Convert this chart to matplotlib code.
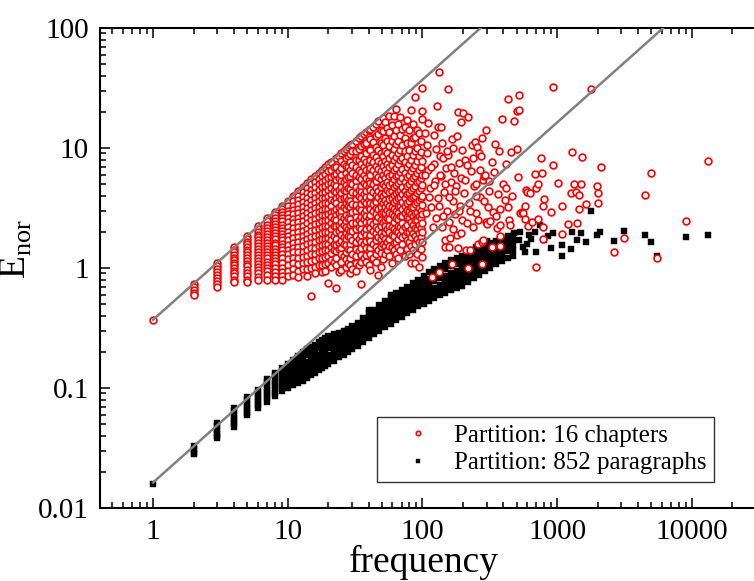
import matplotlib
matplotlib.use("Agg")
import matplotlib.pyplot as plt

# red: partition into 16 chapters; columns (frequency, list of E_nor)
red_cols = [
    (1, [0.37]),
    (2, [0.74, 0.7, 0.66, 0.62, 0.6]),
    (3, [1.1, 1.04, 0.98, 0.93, 0.88, 0.82, 0.78, 0.74, 0.7]),
    (4, [1.5, 1.42, 1.35, 1.28, 1.22, 1.16, 1.1, 1.05, 1.0, 0.95, 0.9, 0.85, 0.8, 0.76]),
    (5, [1.85, 1.75, 1.66, 1.57, 1.49, 1.42, 1.35, 1.28, 1.21, 1.15, 1.09, 1.03, 0.97, 0.91, 0.86, 0.8, 0.77]),
    (6, [2.25, 2.12, 2.0, 1.9, 1.8, 1.7, 1.61, 1.52, 1.44, 1.36, 1.29, 1.22, 1.15, 1.08, 1.02, 0.96, 0.9, 0.84, 0.79]),
    (7, [2.6, 2.45, 2.3, 2.17, 2.05, 1.93, 1.82, 1.72, 1.62, 1.53, 1.44, 1.36, 1.28, 1.2, 1.13, 1.06, 1.0, 0.94, 0.88, 0.8]),
    (8, [2.95, 2.78, 2.62, 2.47, 2.33, 2.2, 2.07, 1.95, 1.84, 1.73, 1.63, 1.54, 1.45, 1.37, 1.29, 1.21, 1.14, 1.07, 1.0, 0.93, 0.86, 0.8]),
    (9, [3.3, 3.1, 2.92, 2.75, 2.6, 2.45, 2.3, 2.17, 2.04, 1.92, 1.8, 1.7, 1.6, 1.5, 1.4, 1.3, 1.2, 1.1, 1.0, 0.92, 0.85, 0.8]),
    (10, [3.6, 3.3, 3.0, 2.8, 2.6, 2.4, 2.2, 2.0, 1.85, 1.7, 1.55, 1.42, 1.3, 1.18, 1.06, 0.95, 0.85]),
    (11, [4.0, 3.6, 3.3, 3.05, 2.8, 2.55, 2.35, 2.15, 1.95, 1.78, 1.62, 1.48, 1.35, 1.22, 1.1, 0.98, 0.88]),
    (12, [4.4, 4.0, 3.7, 3.4, 3.1, 2.85, 2.6, 2.4, 2.2, 2.0, 1.8, 1.65, 1.5, 1.36, 1.22, 1.08, 0.95, 0.84]),
    (13, [4.7, 4.3, 3.9, 3.55, 3.25, 2.95, 2.7, 2.45, 2.25, 2.05, 1.85, 1.68, 1.52, 1.37, 1.23, 1.1, 0.98]),
    (14, [5.1, 4.6, 4.2, 3.8, 3.45, 3.15, 2.85, 2.6, 2.35, 2.12, 1.92, 1.74, 1.57, 1.42, 1.27, 1.12, 0.98, 0.85]),
    (15, [5.5, 5.0, 4.5, 4.1, 3.7, 3.35, 3.05, 2.75, 2.5, 2.25, 2.02, 1.82, 1.63, 1.46, 1.3, 1.15, 1.0, 0.58]),
    (16, [5.8, 5.2, 4.7, 4.25, 3.85, 3.5, 3.15, 2.85, 2.58, 2.32, 2.08, 1.86, 1.66, 1.48, 1.31, 1.16, 1.02, 0.9]),
    (17, [6.2, 5.5, 5.0, 4.5, 4.0, 3.6, 3.25, 2.95, 2.65, 2.38, 2.13, 1.9, 1.7, 1.52, 1.35, 1.2, 1.05]),
    (18, [6.5, 5.8, 5.2, 4.7, 4.2, 3.8, 3.4, 3.05, 2.75, 2.45, 2.2, 1.97, 1.75, 1.55, 1.38, 1.22, 1.06, 0.92]),
    (19, [6.9, 6.1, 5.4, 4.8, 4.3, 3.85, 3.45, 3.1, 2.78, 2.48, 2.22, 1.98, 1.76, 1.57, 1.4, 1.24, 1.08, 0.95]),
    (20, [7.3, 6.4, 5.6, 5.0, 4.45, 3.95, 3.5, 3.12, 2.8, 2.5, 2.24, 2.0, 1.78, 1.6, 1.42, 1.25, 1.1, 0.75]),
    (21, [7.6, 6.5, 5.7, 5.1, 4.6, 4.1, 3.7, 3.3, 2.95, 2.65, 2.38, 2.12, 1.9, 1.7, 1.5, 1.33, 1.17, 1.02]),
    (22, [6.9, 5.9, 5.0, 4.35, 3.6, 3.0, 2.55, 2.25, 1.85, 1.6, 1.4, 1.12]),
    (23, [8.3, 7.0, 6.1, 5.4, 4.8, 4.3, 3.85, 3.45, 3.1, 2.78, 2.5, 2.22, 1.98, 1.76, 1.56, 1.38, 1.2, 1.05, 0.68]),
    (24, [8.6, 6.4, 5.6, 4.5, 3.95, 3.2, 2.9, 2.3, 2.05, 1.62, 1.45, 0.92]),
    (25, [9.0, 7.8, 6.8, 6.0, 5.3, 4.7, 4.2, 3.75, 3.35, 3.0, 2.68, 2.4, 2.14, 1.9, 1.68, 1.48, 1.3, 1.13, 0.97]),
    (26, [9.4, 7.3, 5.2, 4.45, 3.8, 3.2, 2.6, 2.3, 1.8, 1.58, 1.25]),
    (27, [9.8, 8.2, 7.1, 6.2, 5.5, 4.9, 4.35, 3.9, 3.48, 3.1, 2.77, 2.47, 2.2, 1.96, 1.74, 1.54, 1.35, 1.18, 1.02]),
    (28, [10.2, 8.5, 6.9, 5.7, 4.6, 3.7, 3.3, 2.6, 2.1, 1.85, 1.45, 1.1]),
    (29, [10.5, 8.9, 7.6, 6.6, 5.8, 5.1, 4.55, 4.05, 3.6, 3.2, 2.85, 2.55, 2.27, 2.02, 1.8, 1.6, 1.4, 1.22, 1.05, 0.9]),
    (30, [10.9, 9.4, 7.2, 6.2, 5.0, 4.3, 3.4, 2.95, 2.35, 2.05, 1.7, 1.3, 0.98]),
    (32, [11.5, 9.4, 8.0, 6.9, 6.0, 5.3, 4.7, 4.2, 3.75, 3.35, 2.98, 2.65, 2.36, 2.1, 1.86, 1.64, 1.44, 1.26, 1.1, 0.95]),
    (34, [12.2, 9.8, 7.9, 6.6, 5.7, 4.5, 3.95, 3.15, 2.5, 2.2, 1.75, 1.38, 1.05]),
    (35, [12.6, 10.3, 8.6, 7.3, 6.3, 5.5, 4.85, 4.3, 3.82, 3.4, 3.02, 2.68, 2.38, 2.12, 1.88, 1.66, 1.46, 1.28, 1.12, 0.74]),
    (37, [13.0, 10.8, 8.1, 7.0, 5.9, 5.1, 4.1, 3.6, 2.9, 2.55, 2.0, 1.58, 1.2]),
    (38, [13.5, 11.0, 9.0, 7.6, 6.5, 5.65, 4.95, 4.4, 3.9, 3.45, 3.05, 2.7, 2.4, 2.13, 1.89, 1.67, 1.47, 1.29, 1.12]),
    (40, [14.2, 12.3, 9.8, 7.4, 6.3, 5.4, 4.7, 3.7, 3.25, 2.6, 2.28, 1.78, 1.38, 1.05]),
    (41, [14.5, 11.8, 9.6, 8.0, 6.8, 5.9, 5.15, 4.5, 3.95, 3.5, 3.1, 2.74, 2.43, 2.15, 1.9, 1.68, 1.48, 1.3, 0.96]),
    (43, [15.1, 11.2, 8.8, 7.6, 6.5, 5.0, 4.3, 3.4, 3.0, 2.33, 2.05, 1.6, 1.22]),
    (45, [15.8, 12.5, 10.2, 8.4, 7.1, 6.1, 5.3, 4.6, 4.05, 3.58, 3.16, 2.8, 2.48, 2.2, 1.94, 1.71, 1.5, 1.3, 1.12]),
    (47, [16.8, 13.0, 9.6, 7.8, 6.7, 5.7, 4.4, 3.9, 3.1, 2.65, 2.1, 1.82, 1.4, 0.88]),
    (49, [14.0, 11.0, 9.0, 7.5, 6.4, 5.5, 4.75, 4.15, 3.65, 3.22, 2.85, 2.52, 2.23, 1.97, 1.73, 1.52, 1.33, 1.02]),
    (51, [17.8, 13.8, 10.5, 8.6, 7.1, 6.0, 5.0, 4.0, 3.45, 2.95, 2.4, 1.85, 1.6, 1.18]),
    (53, [16.5, 12.0, 9.5, 7.8, 6.6, 5.6, 4.85, 4.22, 3.7, 3.25, 2.87, 2.53, 2.24, 1.98, 1.74, 1.53, 1.3]),
    (55, [14.8, 11.4, 9.0, 7.3, 6.2, 5.2, 4.5, 3.5, 3.05, 2.6, 2.1, 1.65, 1.42]),
    (57, [18.5, 13.5, 10.4, 8.3, 6.9, 5.8, 4.95, 4.3, 3.75, 3.3, 2.9, 2.55, 2.25, 1.98, 1.74, 1.52, 1.25]),
    (60, [15.5, 11.5, 8.8, 7.2, 6.0, 5.1, 4.4, 3.8, 3.2, 2.8, 2.2, 1.9, 1.5, 1.1]),
    (62, [18.5, 12.6, 9.8, 7.9, 6.5, 5.5, 4.7, 4.05, 3.55, 3.1, 2.72, 2.4, 2.12, 1.86, 1.62, 1.4]),
    (64, [21.0, 14.2, 10.8, 8.4, 6.8, 5.8, 4.9, 4.2, 3.7, 3.0, 2.6, 2.05, 1.65, 1.32]),
    (66, [16.0, 11.5, 9.0, 7.3, 6.0, 5.1, 4.4, 3.8, 3.3, 2.9, 2.55, 2.25, 1.98, 1.74, 1.5, 1.2]),
    (68, [18.0, 12.8, 9.6, 7.9, 6.3, 5.3, 4.5, 3.9, 3.3, 2.7, 2.2, 1.9, 1.4]),
    (71, [14.4, 10.5, 8.2, 6.7, 5.6, 4.75, 4.1, 3.55, 3.1, 2.72, 2.38, 2.08, 1.82, 1.58]),
    (74, [15.0, 12.0, 9.4, 7.6, 6.2, 5.2, 4.4, 3.8, 3.3, 2.85, 2.2, 1.9, 1.25]),
    (77, [17.1, 11.0, 8.6, 6.9, 5.7, 4.8, 4.1, 3.5, 3.05, 2.65, 2.3, 2.0, 1.72, 1.45]),
    (80, [14.0, 9.6, 7.4, 6.0, 5.0, 4.2, 3.6, 3.0, 2.6, 2.0, 1.65, 1.3]),
    (82, [20.7, 11.0, 8.0, 6.4, 5.3, 4.45, 3.8, 3.25, 2.8, 2.42, 2.1, 1.8, 1.52, 1.1]),
    (85, [16.0, 12.0, 8.8, 6.8, 5.6, 4.6, 3.9, 3.2, 2.7, 2.3, 1.95, 1.4]),
    (88, [26.6, 12.3, 9.4, 7.2, 5.8, 4.8, 4.0, 3.4, 2.9, 2.5, 2.15, 1.85, 1.58, 1.1]),
    (91, [14.0, 10.0, 7.8, 6.2, 5.2, 4.2, 3.55, 2.95, 2.5, 2.1, 1.75, 1.3]),
    (95, [13.3, 8.5, 6.6, 5.3, 4.4, 3.7, 3.15, 2.7, 2.3, 1.95, 1.65, 1.02]),
    (97, [11.5, 9.2, 7.0, 5.6, 4.6, 3.8, 3.0, 2.6, 2.15, 1.8, 1.45]),
    (100, [31.6, 20.3, 17.4, 7.8, 6.0, 4.9, 4.0, 3.35, 2.8, 2.35, 1.98, 1.65, 1.23]),
]

# red: sparse points above frequency 100
red_tail_f = [104, 108, 110, 111, 113, 115, 118, 121, 122, 124, 126, 128, 130, 131, 133, 133,
              135, 137, 138, 140, 142, 145, 147, 147, 150, 153, 155, 155, 158, 158, 160, 162,
              165, 166, 168, 170, 172, 175, 178, 180, 183, 184, 186, 190, 193, 193, 195, 198,
              200, 204, 208, 212, 215, 218, 218, 222, 225, 228, 233, 236, 240, 245, 248, 250,
              254, 258, 258, 262, 266, 272, 275, 276, 277, 280, 282, 287, 290, 296, 300, 305,
              312, 320, 330, 330, 334, 340, 350, 360, 365, 370, 376, 380, 380, 390, 400, 410,
              420, 430, 435, 440, 445, 455, 480, 500, 500, 510, 520, 520, 530, 550, 555, 580,
              580, 590, 600, 610, 630, 650, 686, 700, 700, 720, 720, 760, 770, 790, 790, 790,
              800, 900, 930, 930, 1010, 1085, 1085, 1200, 1260, 1300, 1340, 1380, 1400, 1450,
              1450, 1500, 1540, 1650, 1780, 1980, 2030, 2030, 2130, 2660, 3130, 4500, 4960,
              5500, 9100, 13100,
              105, 107, 109, 112, 116, 119, 123, 127, 132, 136, 139, 143, 148, 152, 157, 163,
              169, 174, 181, 188, 196, 206, 214, 226, 238, 252, 268, 285, 298, 315, 345, 375,
              415, 460]
red_tail_e = [13.3, 9.0, 6.5, 16.2, 4.6, 3.2, 0.84, 12.8, 7.4, 5.3, 2.6, 22.4, 15.0, 3.8, 43.0, 0.93,
              8.6, 15.0, 5.8, 2.2, 8.25, 4.3, 1.5, 1.71, 6.8, 3.0, 31.0, 8.8, 2.4, 1.5, 1.78, 5.2,
              11.9, 1.08, 3.6, 10.0, 6.2, 2.8, 4.8, 1.9, 1.47, 20.0, 7.5, 3.3, 16.5, 1.96, 5.6, 2.5,
              19.6, 4.2, 8.0, 1.4, 2.37, 18.1, 1.0, 3.5, 1.41, 6.4, 10.6, 2.2, 4.8, 11.2, 2.9, 5.0,
              10.2, 1.6, 2.5, 9.1, 3.9, 8.6, 12.1, 1.08, 1.65, 1.71, 5.4, 5.85, 5.9, 2.4, 2.33, 3.2,
              4.4, 2.46, 7.6, 1.5, 2.93, 6.3, 2.7, 2.15, 4.13, 9.4, 2.28, 1.85, 1.53, 17.4, 5.0, 3.7,
              4.6, 25.6, 3.2, 2.5, 2.28, 9.2, 16.7, 20.3, 9.8, 5.7, 27.6, 20.7, 2.9, 2.93, 2.87, 3.3,
              2.56, 4.46, 4.3, 2.24, 4.2, 2.4, 6.07, 4.6, 1.02, 5.0, 2.56, 8.25, 6.2, 3.3, 2.2, 1.74,
              3.76, 2.93, 32.3, 7.2, 5.1, 3.3, 1.92, 2.33, 4.2, 9.26, 5.0, 4.3, 2.37, 4.06,
              3.1, 5.0, 8.4, 3.4, 31.0, 4.8, 4.2, 3.5, 6.9, 1.36, 1.78, 4.06, 6.2,
              1.21, 2.46, 7.8,
              5.9, 2.9, 10.5, 3.9, 7.0, 2.2, 4.9, 9.8, 3.3, 6.0, 11.0, 2.7, 5.0, 9.5, 3.9, 7.0,
              2.1, 4.4, 12.5, 3.0, 9.6, 5.4, 7.2, 3.0, 8.3, 4.0, 6.5, 3.6, 14.0, 5.3, 10.8, 3.1,
              7.4, 4.0]

# black: partition into 852 paragraphs; columns (frequency, list of E_nor)
black_cols = [
    (1, [0.016]),
    (2, [0.033, 0.031, 0.029, 0.028]),
    (3, [0.051, 0.048, 0.045, 0.042, 0.04, 0.038]),
    (4, [0.068, 0.064, 0.06, 0.056, 0.053, 0.05, 0.047]),
    (5, [0.084, 0.079, 0.074, 0.07, 0.066, 0.062, 0.059]),
    (6, [0.096, 0.091, 0.086, 0.081, 0.076, 0.072, 0.068]),
    (7, [0.119, 0.112, 0.105, 0.099, 0.093, 0.087, 0.082, 0.077]),
    (8, [0.133, 0.125, 0.117, 0.11, 0.103, 0.097, 0.091, 0.086]),
    (9, [0.147, 0.138, 0.129, 0.121, 0.113, 0.106, 0.1, 0.094]),
    (10, [0.16, 0.145, 0.13, 0.118, 0.108, 0.1]),
    (11, [0.17, 0.152, 0.137, 0.124, 0.113, 0.105]),
    (12, [0.185, 0.165, 0.148, 0.133, 0.12, 0.11]),
    (13, [0.2, 0.178, 0.158, 0.141, 0.127, 0.115]),
    (14, [0.21, 0.187, 0.166, 0.148, 0.134, 0.122]),
    (15, [0.22, 0.196, 0.175, 0.156, 0.14, 0.128]),
    (16, [0.23, 0.205, 0.183, 0.163, 0.147, 0.134]),
    (17, [0.24, 0.214, 0.19, 0.17, 0.153, 0.14]),
    (18, [0.25, 0.222, 0.198, 0.177, 0.16, 0.146]),
    (19, [0.26, 0.231, 0.206, 0.184, 0.166, 0.152]),
    (20, [0.27, 0.24, 0.214, 0.19, 0.172, 0.158]),
    (22, [0.28, 0.25, 0.224, 0.2, 0.182, 0.168]),
    (24, [0.29, 0.262, 0.236, 0.212, 0.194, 0.18]),
    (26, [0.3, 0.272, 0.246, 0.222, 0.204, 0.19]),
    (28, [0.31, 0.283, 0.257, 0.233, 0.214, 0.2]),
    (30, [0.33, 0.3, 0.272, 0.246, 0.226, 0.21]),
    (33, [0.35, 0.318, 0.288, 0.26, 0.24, 0.225]),
    (36, [0.38, 0.345, 0.31, 0.28, 0.257, 0.24]),
    (40, [0.45, 0.42, 0.38, 0.34, 0.305, 0.278, 0.26]),
    (44, [0.45, 0.405, 0.364, 0.328, 0.3, 0.28]),
    (48, [0.49, 0.44, 0.394, 0.354, 0.322, 0.3]),
    (53, [0.53, 0.475, 0.425, 0.38, 0.345, 0.32]),
    (58, [0.6, 0.57, 0.51, 0.455, 0.405, 0.366, 0.34]),
    (64, [0.62, 0.553, 0.492, 0.44, 0.398, 0.37]),
    (70, [0.66, 0.59, 0.526, 0.47, 0.424, 0.39]),
    (77, [0.7, 0.626, 0.56, 0.5, 0.452, 0.42]),
    (85, [0.75, 0.67, 0.6, 0.536, 0.484, 0.45]),
    (93, [0.8, 0.715, 0.64, 0.572, 0.515, 0.48]),
    (102, [0.86, 0.765, 0.68, 0.605, 0.545, 0.5]),
    (112, [0.92, 0.815, 0.725, 0.645, 0.58, 0.53]),
    (123, [0.98, 0.87, 0.772, 0.686, 0.615, 0.56]),
    (135, [1.04, 0.92, 0.818, 0.726, 0.65, 0.59]),
    (148, [1.1, 0.975, 0.865, 0.767, 0.685, 0.62]),
    (163, [1.16, 1.03, 0.912, 0.808, 0.72, 0.65]),
    (180, [1.2, 1.07, 0.952, 0.846, 0.755, 0.68]),
    (198, [1.25, 1.115, 0.995, 0.885, 0.79, 0.71]),
    (218, [1.32, 1.18, 1.05, 0.94, 0.84, 0.76]),
    (240, [1.4, 1.25, 1.12, 1.0, 0.9, 0.82]),
    (265, [1.48, 1.33, 1.19, 1.07, 0.96, 0.88]),
    (290, [1.55, 1.4, 1.26, 1.13, 1.02, 0.94]),
    (320, [1.62, 1.47, 1.33, 1.2, 1.09, 1.0]),
    (350, [1.68, 1.53, 1.39, 1.26, 1.15, 1.07]),
    (390, [1.75, 1.6, 1.46, 1.33, 1.22, 1.14]),
    (430, [1.85, 1.8, 1.65, 1.51, 1.38, 1.2]),
    (470, [1.85, 1.7, 1.55, 1.42, 1.25]),
]
black_tail_f = [250, 300, 480, 520, 530, 560, 575, 600, 620, 640, 686, 700, 750, 800, 850, 900,
                930, 1085, 1085, 1260, 1300, 1400, 1500, 1650, 1800, 1980, 2080, 2660, 3140,
                4500, 4980, 5500, 9000, 13200]
black_tail_e = [1.5, 1.68, 1.95, 1.71, 2.0, 1.5, 1.36, 1.6, 1.9, 1.75, 2.0, 1.36, 2.28, 1.7, 1.85, 1.47,
                1.96, 1.55, 1.26, 1.44, 2.0, 1.71, 1.96, 1.65, 2.98, 1.88, 2.0, 1.68, 2.03,
                1.88, 1.65, 1.26, 1.81, 1.88]

# guide lines, slope 1 on log-log axes
upper_line_f = [1, 400]
upper_line_e = [0.37, 148]
lower_line_f = [1, 8000]
lower_line_e = [0.0163, 130.4]

x_ticks = [1, 10, 100, 1000, 10000]
x_labels = ["1", "10", "100", "1000", "10000"]
y_ticks = [0.01, 0.1, 1, 10, 100]
y_labels = ["0.01", "0.1", "1", "10", "100"]

red_f, red_e = [], []
for f, es in red_cols:
    red_f += [f] * len(es)
    red_e += es
red_f += red_tail_f
red_e += red_tail_e

black_f, black_e = [], []
for f, es in black_cols:
    black_f += [f] * len(es)
    black_e += es
black_f += black_tail_f
black_e += black_tail_e

plt.rcParams['font.family'] = ['Liberation Serif', 'DejaVu Serif']
plt.rcParams['mathtext.fontset'] = 'custom'
plt.rcParams['mathtext.rm'] = 'Liberation Serif'

fig = plt.figure(figsize=(7.54, 5.81), dpi=100)
ax = fig.add_axes([100 / 754, 73 / 581, 656 / 754, 480 / 581])

ax.plot(black_f, black_e, 's', color='black', ms=5.0, mew=0.3, ls='none',
        label='Partition: 852 paragraphs', zorder=2)
ax.plot(red_f, red_e, 'o', mfc='white', mec='red', ms=4.9, mew=1.2, ls='none',
        label='Partition: 16 chapters', zorder=3)
ax.plot(upper_line_f, upper_line_e, '-', color='#808080', lw=1.8, zorder=4)
ax.plot(lower_line_f, lower_line_e, '-', color='#808080', lw=1.8, zorder=4)

ax.set_xscale('log')
ax.set_yscale('log')
ax.set_xlim(0.404, 30000)
ax.set_ylim(0.01, 100)
ax.set_xticks(x_ticks)
ax.set_xticklabels(x_labels)
ax.set_yticks(y_ticks)
ax.set_yticklabels(y_labels)

ax.tick_params(which='both', direction='in', top=True, right=False, width=1.1,
               labelsize=21, pad=8)
ax.tick_params(which='major', length=7.5)
ax.tick_params(which='minor', length=4)
for s in ax.spines.values():
    s.set_linewidth(1.5)

ax.set_xlabel('frequency', fontsize=27, va='baseline')
ax.xaxis.set_label_coords(0.493, -0.134)
ax.set_ylabel(r'E$_{\mathrm{nor}}$', fontsize=27)
ax.yaxis.set_label_coords(-0.1, 0.54)

h, l = ax.get_legend_handles_labels()
leg = ax.legend(h[::-1], l[::-1], loc='upper left', bbox_to_anchor=(0.422, 0.19),
                fontsize=18, frameon=True, fancybox=False, edgecolor='black',
                borderaxespad=0, handlelength=2.7, handletextpad=0.1,
                labelspacing=0.2, borderpad=0.3, markerscale=0.65)
leg.get_frame().set_linewidth(1.0)

fig.savefig('out.png', dpi=100)
